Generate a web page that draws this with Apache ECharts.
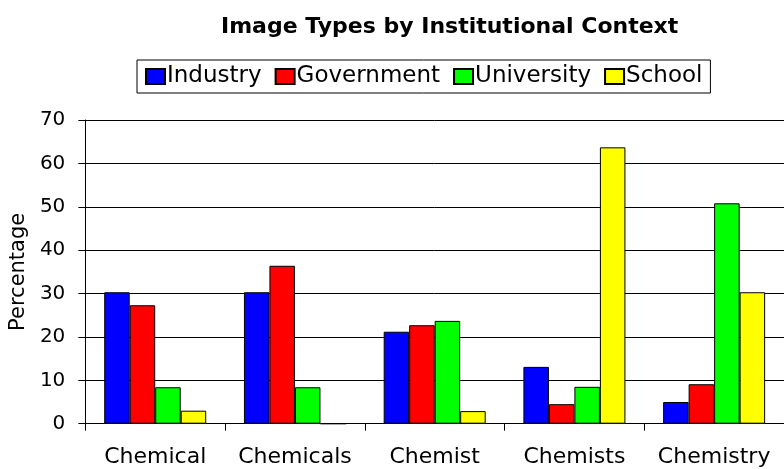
<!DOCTYPE html>
<html>
<head>
<meta charset="utf-8">
<script src="https://cdn.jsdelivr.net/npm/echarts@6/dist/echarts.min.js"></script>
<style>
html,body{margin:0;padding:0;background:#fff;}
#chart{width:784px;height:469px;}
</style>
</head>
<body>
<div id="chart"></div>
<script>
const categories = ['Chemical', 'Chemicals', 'Chemist', 'Chemists', 'Chemistry'];
const industry   = [30.3, 30.3, 21.2, 13.1, 5.0];
const government = [27.3, 36.4, 22.7, 4.5, 9.1];
const university = [8.4, 8.4, 23.7, 8.5, 50.8];
const school     = [3.0, 0, 2.9, 63.7, 30.3];
const seriesNames = ['Industry', 'Government', 'University', 'School'];
const yTicks = [0, 10, 20, 30, 40, 50, 60, 70];

const FONT = 'DejaVu Sans';
const colors = ['#0000FF', '#FF0000', '#00FF00', '#FFFF00'];
const values = [industry, government, university, school];

const chart = echarts.init(document.getElementById('chart'), null, {renderer: 'canvas'});
chart.setOption({
  animation: false,
  backgroundColor: '#fff',
  title: {
    text: 'Image Types by Institutional Context',
    left: 216, top: 11,
    textStyle: {fontFamily: FONT, fontSize: 22, fontWeight: 'bold', color: '#000'}
  },
  legend: {
    data: seriesNames,
    left: 137, top: 60,
    padding: [5, 8, 5, 8],
    borderColor: '#000', borderWidth: 1,
    itemWidth: 19, itemHeight: 15, itemGap: 13,
    icon: 'rect',
    textStyle: {fontFamily: FONT, fontSize: 23, color: '#000', padding: [0, 0, 0, -3]}
  },
  grid: {left: 83, right: -3, top: 120, bottom: 45.3, containLabel: false},
  xAxis: {
    type: 'category', data: categories,
    axisLine: {lineStyle: {color: '#000', width: 1}},
    axisTick: {show: true, length: 7, lineStyle: {color: '#000'}},
    axisLabel: {interval: 0, fontFamily: FONT, fontSize: 22, color: '#000', margin: 23}
  },
  yAxis: {
    type: 'value', min: yTicks[0], max: yTicks[yTicks.length - 1], interval: 10,
    name: 'Percentage', nameLocation: 'middle', nameGap: 47,
    nameTextStyle: {fontFamily: FONT, fontSize: 21, color: '#000'},
    axisLine: {show: true, lineStyle: {color: '#000', width: 1}},
    axisTick: {show: true, length: 7, lineStyle: {color: '#000'}},
    axisLabel: {fontFamily: FONT, fontSize: 20, color: '#000', margin: 20},
    splitLine: {show: true, lineStyle: {color: '#000', width: 1}}
  },
  series: seriesNames.map((n, i) => ({
    name: n, type: 'bar', data: values[i],
    barGap: '0%', barCategoryGap: '27%',
    itemStyle: {color: colors[i], borderColor: '#000', borderWidth: 1}
  }))
});
</script>
</body>
</html>
